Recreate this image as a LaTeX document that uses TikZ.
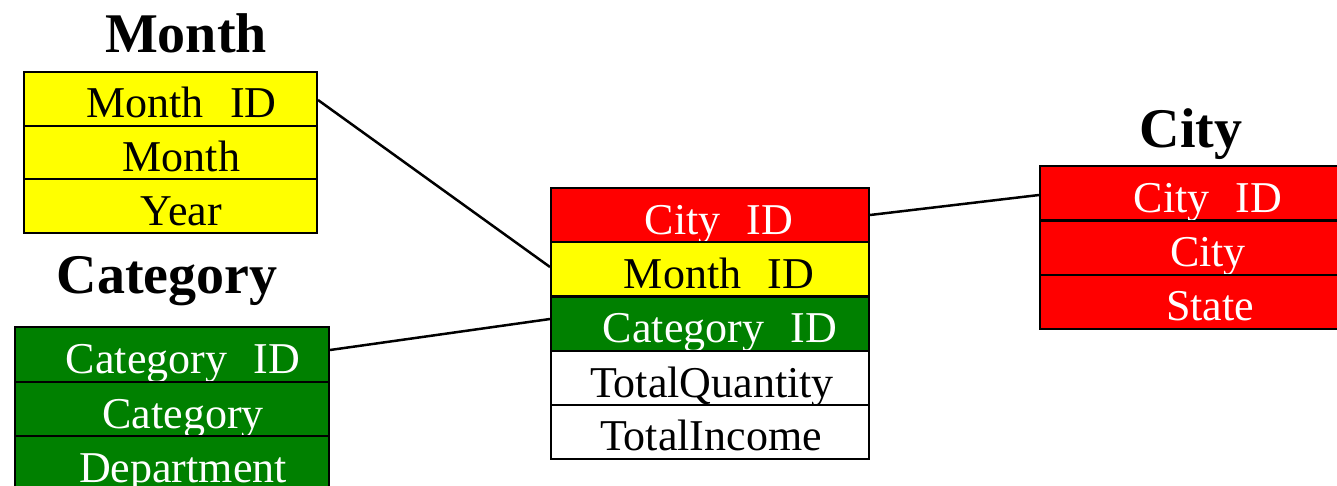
\documentclass[tikz,border=0pt]{standalone}
\usepackage{fontspec}
\setmainfont{Liberation Serif}
\definecolor{ryel}{RGB}{255,255,0}
\definecolor{rred}{RGB}{255,0,0}
\definecolor{rgrn}{RGB}{0,128,0}
\begin{document}
\begin{tikzpicture}[x=1pt,y=-1pt,
  row/.style={draw=black, line width=2pt, rectangle, inner xsep=0pt, inner ysep=0pt,
    text height=46pt, text depth=8pt, font=\fontsize{44}{50}\selectfont},
  title/.style={anchor=base, font=\fontsize{56}{60}\selectfont\bfseries},
  link/.style={draw=black, line width=2.5pt}]
\useasboundingbox (0,0) rectangle (1337,485);
% Month table
\node[title] (tm) at (186,52) {Month};
\begin{scope}[every node/.append style={row, fill=ryel, text=black, minimum width=293pt, minimum height=54pt}]
\node (m1) at (170.5,98.5) {\hspace*{22pt}Month\hspace{0.6em}ID};
\node (m2) at (170.5,152.5) {\hspace*{22pt}Month};
\node (m3) at (170.5,206) {\hspace*{22pt}Year};
\end{scope}
% Category table
\node[title] (tc) at (167,293) {Category};
\begin{scope}[every node/.append style={row, fill=rgrn, text=white, minimum width=314pt, minimum height=54.5pt}]
\node (c1) at (172,354.5) {\hspace*{22pt}Category\hspace{0.6em}ID};
\node (c2) at (172,409) {\hspace*{22pt}Category};
\node (c3) at (172,463.5) {\hspace*{22pt}Department};
\end{scope}
% Fact table
\begin{scope}[every node/.append style={row, minimum width=318pt, minimum height=54pt}]
\node[fill=rred, text=white] (f1) at (710,215) {\hspace*{18pt}City\hspace{0.6em}ID};
\node[fill=ryel, text=black] (f2) at (710,269) {\hspace*{18pt}Month\hspace{0.6em}ID};
\node[fill=rgrn, text=white] (f3) at (710,323.5) {\hspace*{20pt}Category\hspace{0.6em}ID};
\node[fill=white, text=black] (f4) at (710,378) {\hspace*{4pt}TotalQuantity};
\node[fill=white, text=black] (f5) at (710,431.5) {\hspace*{2pt}TotalIncome};
\end{scope}
% City table
\node[title] (tci) at (1191,147) {City};
\begin{scope}[every node/.append style={row, fill=rred, text=white, minimum width=330pt, minimum height=54pt}]
\node (ci1) at (1205,193) {\hspace*{6pt}City\hspace{0.6em}ID};
\node (ci2) at (1205,247.5) {\hspace*{6pt}City};
\node (ci3) at (1205,301.5) {\hspace*{10pt}State};
\end{scope}
% connectors
\draw[link] ([yshift=-1.5pt]m1.east) -- ([yshift=2pt]f2.west);
\draw[link] ([yshift=4.5pt]c1.east) -- ([yshift=4.5pt]f3.west);
\draw[link] (f1.east) -- ([yshift=-2pt]ci1.west);
\end{tikzpicture}
\end{document}
